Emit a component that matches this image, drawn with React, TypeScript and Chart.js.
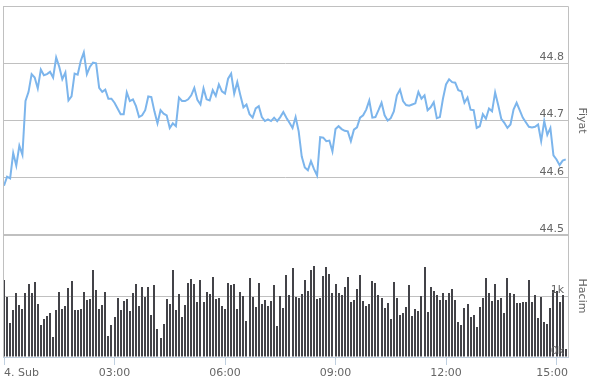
import React, { useEffect, useRef } from 'react';
import { Chart, registerables } from 'chart.js';

Chart.register(...registerables);

// Price (Fiyat), one value per 5-minute bar, 00:00 → 15:15
const priceValues: number[] = [
  44.586, 44.602, 44.599, 44.643, 44.621, 44.656, 44.640, 44.734, 44.750, 44.781,
  44.775, 44.756, 44.789, 44.779, 44.781, 44.785, 44.775, 44.810, 44.794, 44.772,
  44.784, 44.735, 44.742, 44.782, 44.780, 44.804, 44.819, 44.781, 44.794, 44.801,
  44.800, 44.757, 44.750, 44.754, 44.738, 44.738, 44.731, 44.721, 44.711, 44.711,
  44.749, 44.734, 44.737, 44.725, 44.706, 44.709, 44.718,
  44.742, 44.741, 44.716, 44.695, 44.718, 44.712, 44.709, 44.687, 44.695, 44.690,
  44.740, 44.734, 44.734, 44.737, 44.744, 44.757, 44.736, 44.728, 44.756, 44.737,
  44.735, 44.753, 44.743, 44.763, 44.751, 44.747, 44.773, 44.782, 44.747, 44.767,
  44.744, 44.723, 44.728, 44.711, 44.705, 44.721, 44.725, 44.706, 44.699, 44.702,
  44.699, 44.705, 44.699, 44.706, 44.715,
  44.705, 44.696, 44.687, 44.706, 44.681, 44.637, 44.618, 44.613, 44.629, 44.615,
  44.604, 44.671, 44.670, 44.664, 44.665, 44.646, 44.685, 44.690, 44.685, 44.682,
  44.681, 44.664, 44.684, 44.688, 44.705, 44.709, 44.719, 44.735, 44.705, 44.706,
  44.718, 44.731, 44.709, 44.700, 44.704, 44.716, 44.744, 44.754, 44.734, 44.727,
  44.726, 44.728, 44.730, 44.750, 44.738, 44.744,
  44.718, 44.723, 44.732, 44.704, 44.706, 44.738, 44.763, 44.772, 44.767, 44.766,
  44.753, 44.751, 44.731, 44.740, 44.719, 44.718, 44.687, 44.690, 44.711, 44.703,
  44.721, 44.716, 44.749, 44.727, 44.703, 44.696, 44.687, 44.693, 44.719, 44.731,
  44.718, 44.705, 44.697, 44.689, 44.688, 44.689, 44.693, 44.664, 44.699, 44.675,
  44.687, 44.639, 44.632, 44.622, 44.630, 44.632,
];

// Volume (Hacim), one bar per 5 minutes
const volumeValues: number[] = [
  1262, 978, 552, 770, 1044, 847, 792, 1044, 1191, 1044,
  1224, 863, 519, 617, 678, 716, 322, 765, 1060, 792,
  842, 1126, 1251, 765, 765, 781, 1060, 934, 945, 1426,
  1093, 781, 847, 1060, 344, 519, 661, 962, 765, 918,
  945, 749, 1044, 1191, 842, 1153, 989, 1148, 683, 1175,
  454, 306, 536, 945, 869, 1426, 770, 1027, 661, 847,
  1219, 1279, 1197, 902,
  1262, 896, 1066, 1027, 1311, 945, 962, 836, 781, 1213,
  1180, 1197, 781, 1066, 995, 590, 1295, 984, 814, 1213,
  869, 929, 831, 918, 1175, 503, 995, 798, 1344, 1011,
  1454, 978, 962, 1027, 1257, 1082, 1421, 1492, 945, 962,
  1322, 1470, 1361, 1049, 1197, 1049, 1011, 1142, 1311, 902,
  929, 1109, 1339, 918, 831, 863, 1240, 1208, 1011, 962,
  798, 880, 617, 1224, 967,
  694, 716, 814, 1175, 667, 781, 749, 995, 1470, 732,
  1142, 1077, 1011, 929, 1044, 929, 1044, 1109, 934, 568,
  525, 798, 863, 650, 683, 486, 814, 962, 1290, 1049,
  918, 1197, 929,
  962, 727, 1290, 1044, 1027, 880, 880, 907, 907, 1262,
  907, 1016, 634, 989, 579, 541, 798, 1098, 1087, 907,
  1016, 126,
];

const barIntervalMinutes = 5;
const xTickMinutes = [0, 180, 360, 540, 720, 900];
const xTickLabels = ['4. Sub', '03:00', '06:00', '09:00', '12:00', '15:00'];
const priceAxisTitle = 'Fiyat';
const volumeAxisTitle = 'Hacim';

const FONT = "'DejaVu Sans', Verdana, sans-serif";

export default function App() {
  const canvasRef = useRef<HTMLCanvasElement>(null);

  useEffect(() => {
    const canvas = canvasRef.current;
    if (!canvas) return;

    const crispBarsPlugin = {
      id: 'crispBars',
      afterDatasetsUpdate(chart: any) {
        chart.data.datasets.forEach((ds: any, di: number) => {
          if (ds.type !== 'bar') return;
          const meta = chart.getDatasetMeta(di);
          meta.data.forEach((el: any) => {
            el.x = Math.round(el.x);
            el.y = Math.round(el.y);
          });
        });
      },
    };

    const framePlugin = {
      id: 'frame',
      afterDraw(chart: any) {
        const { ctx, chartArea: a, scales } = chart;
        ctx.save();
        ctx.strokeStyle = '#C0C0C0';
        ctx.lineWidth = 1;
        ctx.beginPath();
        ctx.moveTo(a.left + 0.5, a.bottom);
        ctx.lineTo(a.left + 0.5, a.top + 0.5);
        ctx.lineTo(a.right + 0.5, a.top + 0.5);
        ctx.lineTo(a.right + 0.5, a.bottom);
        ctx.stroke();
        const sep = scales.yPrice.bottom;
        ctx.lineWidth = 2;
        ctx.beginPath();
        ctx.moveTo(a.left, sep);
        ctx.lineTo(a.right + 1, sep);
        ctx.stroke();

        const xs = scales.x;
        ctx.font = `11px ${FONT}`;
        ctx.fillStyle = '#666666';
        ctx.textBaseline = 'alphabetic';
        ctx.textAlign = 'left';
        xTickMinutes.forEach((m, i) => {
          const label = xTickLabels[i];
          const w = ctx.measureText(label).width;
          const px = xs.getPixelForValue(m);
          const left = Math.min(Math.max(px - w / 2, a.left + 1), a.right - w);
          ctx.fillText(label, left, xs.top + 19);
        });
        ctx.restore();
      },
    };

    const chart = new Chart(canvas, {
      type: 'bar',
      data: {
        datasets: [
          {
            type: 'line',
            label: priceAxisTitle,
            data: priceValues.map((v, i) => ({ x: i * barIntervalMinutes, y: v })),
            yAxisID: 'yPrice',
            borderColor: '#7cb5ec',
            borderWidth: 2,
            pointRadius: 0,
            tension: 0,
            fill: false,
          } as any,
          {
            type: 'bar',
            label: volumeAxisTitle,
            data: volumeValues.map((v, i) => ({ x: i * barIntervalMinutes, y: v })),
            yAxisID: 'yVol',
            backgroundColor: '#434348',
            barThickness: 2,
            inflateAmount: 0,
          } as any,
        ],
      },
      options: {
        responsive: false,
        animation: false,
        devicePixelRatio: 1,
        layout: { padding: { left: 3, top: 6, right: 0, bottom: 0 } },
        plugins: { legend: { display: false }, tooltip: { enabled: false } },
        scales: {
          x: {
            type: 'linear',
            offset: false,
            min: -1.63,
            max: 918.7,
            afterBuildTicks: (s: any) => {
              s.ticks = xTickMinutes.map((v) => ({ value: v }));
            },
            afterFit: (s: any) => {
              s.height = 19;
            },
            ticks: { display: false },
            grid: {
              display: true,
              offset: false,
              drawOnChartArea: false,
              drawTicks: true,
              tickLength: 8,
              tickColor: '#C0D0E0',
              color: '#C0D0E0',
            },
            border: { display: true, color: '#C0D0E0' },
          },
          yPrice: {
            type: 'linear',
            position: 'right',
            stack: 'panes',
            stackWeight: 229,
            min: 44.5,
            max: 44.9,
            afterFit: (s: any) => {
              s.width = 23;
            },
            ticks: {
              stepSize: 0.1,
              mirror: true,
              padding: -4,
              labelOffset: -6,
              color: '#666666',
              font: { family: FONT, size: 11 },
              z: 1,
              callback: (v: any) => (Math.abs(Number(v) - 44.9) < 1e-6 ? '' : Number(v).toFixed(1)),
            },
            grid: { color: '#C0C0C0', drawTicks: false },
            border: { display: false },
            title: {
              display: true,
              text: priceAxisTitle,
              color: '#666666',
              font: { family: FONT, size: 11 },
              padding: { top: 3, bottom: 0 },
            },
          },
          yVol: {
            type: 'linear',
            position: 'right',
            stack: 'panes',
            stackWeight: 122,
            min: 0,
            max: 2000,
            afterFit: (s: any) => {
              s.width = 23;
            },
            ticks: {
              stepSize: 1000,
              mirror: true,
              padding: -4,
              labelOffset: -6,
              color: '#666666',
              font: { family: FONT, size: 11 },
              z: 1,
              callback: (v: any) => (Number(v) >= 2000 ? '' : `${Number(v) / 1000}k`),
            },
            grid: { color: '#C0C0C0', drawTicks: false },
            border: { display: false },
            title: {
              display: true,
              text: volumeAxisTitle,
              color: '#666666',
              font: { family: FONT, size: 11 },
              padding: { top: 3, bottom: 0 },
            },
          },
        },
      } as any,
      plugins: [crispBarsPlugin, framePlugin],
    });

    return () => chart.destroy();
  }, []);

  return (
    <div style={{ position: 'absolute', left: 0, top: 0, width: 591, height: 376, background: '#fff' }}>
      <canvas ref={canvasRef} width={591} height={376} style={{ width: 591, height: 376, display: 'block' }} />
    </div>
  );
}
